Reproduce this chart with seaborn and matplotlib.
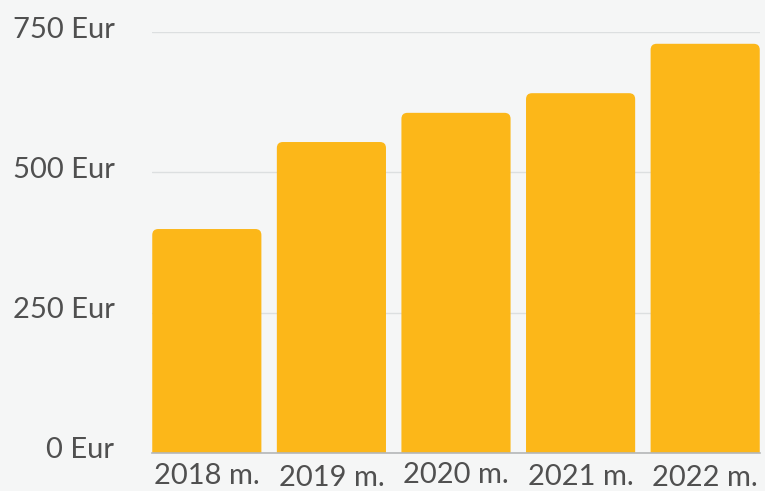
import matplotlib
matplotlib.use("Agg")
import matplotlib.pyplot as plt
import matplotlib.transforms as mtransforms
from matplotlib.patches import FancyBboxPatch
import pandas as pd
import seaborn as sns

# data
years = ["2018 m.", "2019 m.", "2020 m.", "2021 m.", "2022 m."]
amounts = [399, 554, 606, 641, 729]
yticks = [0, 250, 500, 750]
ytick_labels = ["0 Eur", "250 Eur", "500 Eur", "750 Eur"]

bg = "#f5f6f6"
bar_color = "#fcb719"
text_color = "#505050"
grid_color = "#dcdfe0"

sns.set_theme(style="white")
plt.rcParams["font.family"] = ["Lato", "DejaVu Sans"]

df = pd.DataFrame({"year": years, "amount": amounts})

fig = plt.figure(figsize=(7.65, 4.91), dpi=100, facecolor=bg)
ax = fig.add_axes([152 / 765, (491 - 453) / 491, (760 - 152) / 765, (453 - 32) / 491])
ax.set_facecolor(bg)

sns.barplot(data=df, x="year", y="amount", color=bar_color, width=0.876,
            saturation=1, ax=ax)
ax.set_xlim(-0.44, 4.44)
ax.set_ylim(0, 750)

# swap the square bars for ones with rounded top corners
fig.canvas.draw()
bbox = ax.get_window_extent()
x_per_px = (ax.get_xlim()[1] - ax.get_xlim()[0]) / bbox.width
y_per_px = (ax.get_ylim()[1] - ax.get_ylim()[0]) / bbox.height
radius_px = 6
for p in list(ax.patches):
    x, w, h = p.get_x(), p.get_width(), p.get_height()
    p.remove()
    ax.add_patch(FancyBboxPatch(
        (x, -50), w, h + 50,
        boxstyle=f"round,pad=0,rounding_size={radius_px * x_per_px}",
        mutation_aspect=y_per_px / x_per_px,
        fc=bar_color, ec="none", zorder=2))

ax.set_yticks(yticks, ytick_labels)
ax.yaxis.grid(True, color=grid_color, lw=1)
ax.set_axisbelow(True)
for s in ["top", "right", "left"]:
    ax.spines[s].set_visible(False)
ax.spines["bottom"].set_color("#b5b7b8")
ax.spines["bottom"].set_linewidth(1.2)
ax.spines["bottom"].set_zorder(3)

ax.tick_params(axis="y", length=0, pad=27, labelsize=21, labelcolor=text_color)
ax.tick_params(axis="x", length=0, pad=7, labelsize=21, labelcolor=text_color)
ax.set_xlabel("")
ax.set_ylabel("")

for lab in ax.get_yticklabels():
    lab.set_transform(lab.get_transform() +
                      mtransforms.ScaledTranslation(0, 0.05, fig.dpi_scale_trans))

# the year labels sit at slightly different heights
x_shift_px = [0, -2, 1, -1, -2]
for lab, dy in zip(ax.get_xticklabels(), x_shift_px):
    lab.set_transform(lab.get_transform() +
                      mtransforms.ScaledTranslation(0, dy / 100, fig.dpi_scale_trans))

fig.savefig("out.png", dpi=100, facecolor=bg)
